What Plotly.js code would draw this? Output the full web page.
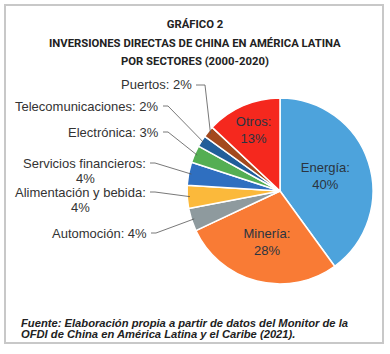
<!DOCTYPE html>
<html>
<head>
<meta charset="utf-8">
<script src="https://cdn.plot.ly/plotly-3.0.1.min.js"></script>
<style>html,body{margin:0;padding:0;background:#fff;}#chart{width:390px;height:354px;}</style>
</head>
<body>
<div id="chart"></div>
<script>
// ---- data ----
const categories = ['Energía','Minería','Automoción','Alimentación y bebida','Servicios financieros','Electrónica','Telecomunicaciones','Puertos','Otros'];
const shares = [40, 28, 4, 4, 4, 3, 2, 2, 13];
const sliceColors = ['#4da3dc','#f97b35','#8e9a9e','#fbb93b','#2f6fc0','#54ae53','#215e9a','#a3491e','#f5281e'];
const titleLines = ['GRÁFICO 2','INVERSIONES DIRECTAS DE CHINA EN AMÉRICA LATINA','POR SECTORES (2000-2020)'];
const sourceLines = ['Fuente: Elaboración propia a partir de datos del Monitor de la','OFDI de China en América Latina y el Caribe (2021).'];

// ---- layout / style (pixel geometry) ----
const W = 390, H = 354;
const cx = 280, cy = 191, R = 93;
const insideIdx = [0, 1, 8];
// outside label anchors: [right edge x, first line y, second-line center x (two-line), leader elbow x]
const outsideLabels = {
  2: [148, 233, null],
  3: [147, 192, 80],
  4: [147, 163, 85],
  5: [160, 132, null],
  6: [160, 106, null],
  7: [193, 85, null, 205]
};
const px = x => x / W, py = y => 1 - y / H;
const FONT = 'Liberation Sans, Arial, sans-serif';
const TFONT = 'Roboto, Liberation Sans Narrow, sans-serif';

const total = shares.reduce((a, b) => a + b, 0);
const text = categories.map((c, i) => insideIdx.includes(i) ? c + ':<br>' + shares[i] + '%' : '');
const textpos = categories.map((c, i) => insideIdx.includes(i) ? 'inside' : 'none');

const trace = {
  type: 'pie',
  labels: categories,
  values: shares,
  sort: false,
  direction: 'clockwise',
  rotation: 0,
  marker: {colors: sliceColors, line: {color: '#ffffff', width: 1.5}},
  text: text,
  textinfo: 'text',
  textposition: textpos,
  insidetextorientation: 'horizontal',
  insidetextfont: {family: FONT, size: 13, color: '#2b3440'},
  hoverinfo: 'label+percent',
  showlegend: false,
  domain: {x: [px(cx - R), px(cx + R)], y: [py(cy + R), py(cy - R)]}
};

const annotations = [];
const shapes = [];
// border frame
shapes.push({type: 'rect', xref: 'paper', yref: 'paper', x0: px(5), x1: px(383), y0: py(343), y1: py(5),
  line: {color: '#c8c8c8', width: 2}});

// title lines 2,3
titleLines.slice(1).forEach((t, k) => {
  annotations.push({xref: 'paper', yref: 'paper', x: 0.5, y: py(43 + k * 18.5), xanchor: 'center', yanchor: 'middle',
    text: '<b>' + t + '</b>', showarrow: false,
    font: {family: TFONT, size: 11.3, color: '#222'}});
});
// source lines
sourceLines.forEach((t, k) => {
  annotations.push({xref: 'paper', yref: 'paper', x: px(20), y: py(323 + k * 11), xanchor: 'left', yanchor: 'middle',
    text: '<b><i>' + t + '</i></b>', showarrow: false, borderpad: 0,
    font: {family: FONT, size: 11.2, color: '#222'}});
});

// outside labels with leader lines
let cum = 0;
shares.forEach((v, i) => {
  const mid = (cum + v / 2) / total * 2 * Math.PI;
  cum += v;
  const lab = outsideLabels[i];
  if (!lab) return;
  const [xr, y1, c2, elbow] = lab;
  const lf = {family: FONT, size: 13, color: '#333'};
  if (c2 !== null) {
    annotations.push({xref: 'paper', yref: 'paper', x: px(xr), y: py(y1), xanchor: 'right', yanchor: 'middle',
      text: categories[i] + ':', showarrow: false, borderpad: 0, font: lf});
    annotations.push({xref: 'paper', yref: 'paper', x: px(c2), y: py(y1 + 15), xanchor: 'center', yanchor: 'middle',
      text: shares[i] + '%', showarrow: false, borderpad: 0, font: lf});
  } else {
    annotations.push({xref: 'paper', yref: 'paper', x: px(xr), y: py(y1), xanchor: 'right', yanchor: 'middle',
      text: categories[i] + ': ' + shares[i] + '%', showarrow: false, borderpad: 0, font: lf});
  }
  const ex = cx + R * 0.97 * Math.sin(mid), ey = cy - R * 0.97 * Math.cos(mid);
  const sx = xr + 3, bx = elbow || (xr + 8);
  shapes.push({type: 'path', xref: 'paper', yref: 'paper',
    path: `M ${px(sx)} ${py(y1)} L ${px(bx)} ${py(y1)} L ${px(ex)} ${py(ey)}`,
    line: {color: '#555', width: 0.8}});
});

const layout = {
  width: W, height: H,
  margin: {l: 0, r: 0, t: 0, b: 0},
  paper_bgcolor: '#ffffff',
  title: {text: '<b>' + titleLines[0] + '</b>', x: 0.5, xanchor: 'center', y: py(24), yanchor: 'middle',
    font: {family: TFONT, size: 11.3, color: '#222'}},
  annotations: annotations,
  shapes: shapes
};

Plotly.newPlot('chart', [trace], layout, {displayModeBar: false, staticPlot: true});
</script>
</body>
</html>
